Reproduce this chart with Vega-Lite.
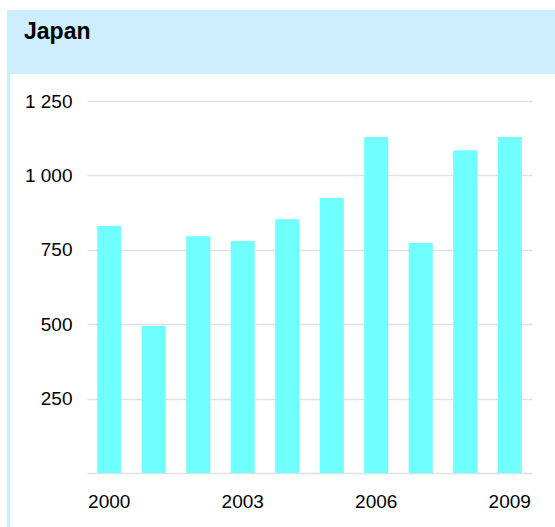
{
  "$schema": "https://vega.github.io/schema/vega-lite/v6.json",
  "padding": {"left": 7, "top": 10, "right": 0, "bottom": 0},
  "autosize": {"type": "pad"},
  "background": "white",
  "spacing": 0,
  "config": {
    "font": "Liberation Sans",
    "view": {"stroke": null},
    "concat": {"spacing": 0},
    "axis": {"labelFont": "Liberation Sans", "labelColor": "#000000"}
  },
  "datasets": {
    "header": [{"country": "Japan"}],
    "sales": [
      {"year": 2000, "value": 830},
      {"year": 2001, "value": 494},
      {"year": 2002, "value": 796},
      {"year": 2003, "value": 780},
      {"year": 2004, "value": 853},
      {"year": 2005, "value": 924},
      {"year": 2006, "value": 1129},
      {"year": 2007, "value": 773},
      {"year": 2008, "value": 1085},
      {"year": 2009, "value": 1129}
    ]
  },
  "vconcat": [
    {
      "data": {"name": "header"},
      "width": 548,
      "height": 64,
      "view": {"fill": "#cceeff", "stroke": null},
      "mark": {"type": "text", "align": "left", "baseline": "alphabetic", "fontSize": 23, "fontWeight": "bold", "dx": 17, "dy": -3, "color": "#000000", "font": "Liberation Sans"},
      "encoding": {
        "text": {"field": "country", "type": "nominal"},
        "x": {"field": "country", "type": "nominal", "axis": null, "scale": {"type": "point", "padding": 0, "align": 0}}
      }
    },
    {
      "spacing": 0,
      "hconcat": [
        {
          "data": {"name": "header"},
          "width": 3,
          "height": 453,
          "view": {"fill": "#cceeff", "stroke": null},
          "mark": {"type": "text", "text": ""},
          "encoding": {}
        },
        {
          "data": {"name": "sales"},
          "width": 445,
          "height": 399,
          "mark": {"type": "bar", "color": "#6fffff"},
          "encoding": {
            "x": {
              "field": "year",
              "type": "ordinal",
              "scale": {"paddingInner": 0.46, "paddingOuter": 0.23},
              "axis": {
                "values": [2000, 2003, 2006, 2009],
                "labelAngle": 0,
                "title": null,
                "ticks": false,
                "domain": false,
                "grid": false,
                "labelPadding": 19,
                "labelFontSize": 19
              }
            },
            "y": {
              "field": "value",
              "type": "quantitative",
              "scale": {"domain": [0, 1341], "nice": false},
              "axis": {
                "values": [0, 250, 500, 750, 1000, 1250],
                "title": null,
                "ticks": false,
                "domain": false,
                "grid": true,
                "gridColor": "#e0e0e0",
                "gridWidth": 1.5,
                "labelPadding": 15,
                "labelFontSize": 19,
                "minExtent": 77,
                "maxExtent": 77,
                "labelExpr": "datum.value == 0 ? '' : replace(format(datum.value, ','), ',', ' ')"
              }
            }
          }
        }
      ]
    }
  ]
}
